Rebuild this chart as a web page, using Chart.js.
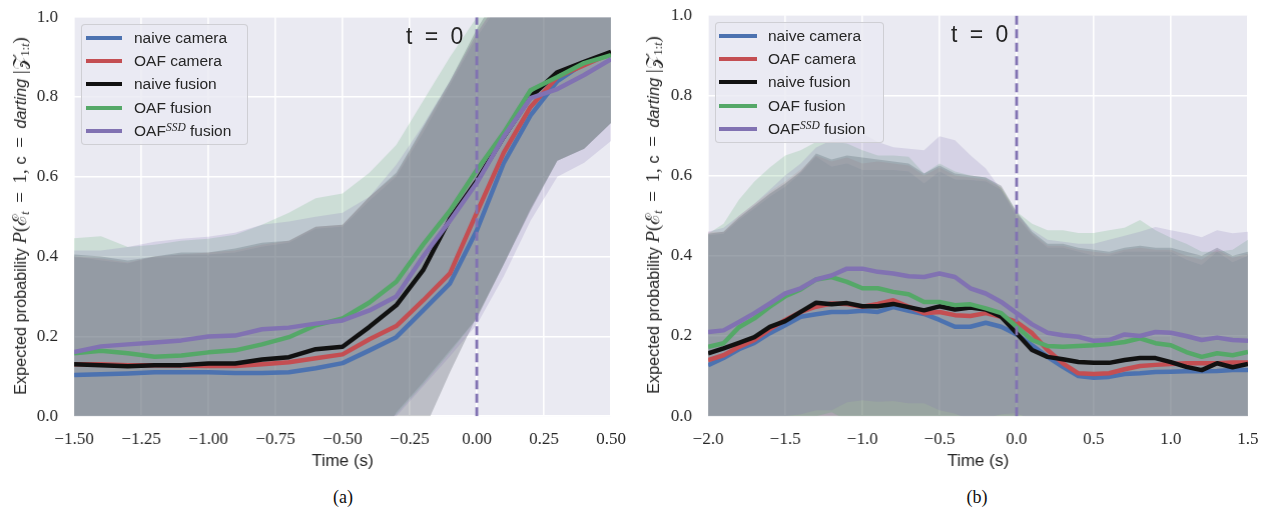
<!DOCTYPE html>
<html><head><meta charset="utf-8">
<script src="https://cdn.jsdelivr.net/npm/chart.js@4.4.1/dist/chart.umd.min.js"></script>
<style>
html,body{margin:0;padding:0;background:#fff}
body{width:1267px;height:512px;position:relative;overflow:hidden;font-family:"Liberation Sans",Arial,sans-serif;color:#262626}
canvas{position:absolute;top:0}
#ca{left:0}
#cb{left:630px}
.legend{position:absolute;background:rgba(234,234,242,0.8);border:1px solid rgba(204,204,208,0.9);border-radius:4px;box-sizing:border-box}
.sw{position:absolute;height:4px}
.lt{position:absolute;font-size:15.5px;white-space:nowrap;line-height:15px;color:#262626}
.lt sup{font-family:"Liberation Serif",serif;font-style:italic;font-size:11.5px;position:relative;top:-1px;vertical-align:top;line-height:10px}
.tz{position:absolute;font-size:23px;white-space:nowrap;color:#262626;word-spacing:6px;line-height:23px}
.cap{position:absolute;font-family:"Liberation Serif",serif;font-size:18px;color:#111;transform:translateX(-50%);line-height:18px}
.ytitle{position:absolute;white-space:nowrap;font-size:16.3px;line-height:18px;transform:translate(-50%,-50%) rotate(-90deg);color:#262626}
.m{font-family:"Liberation Serif",serif;font-size:19px}
.mi{font-family:"Liberation Serif",serif;font-style:italic;font-size:19px}
.ytitle sub{font-size:12px;line-height:0;position:relative;top:3px;vertical-align:baseline}
</style>
</head><body>
<canvas id="ca" width="630" height="472"></canvas>
<canvas id="cb" width="637" height="472"></canvas>
<div class="ytitle" style="left:20px;top:216px">Expected probability <span class="mi">P</span><span class="m">(</span><span class="m">ℰ</span><sub class="mi">t</sub><span class="m">&thinsp; = &thinsp;1, </span>c<span class="m">&thinsp; = &thinsp;</span><i>darting</i><span class="m"> |</span><span class="m">𝒵</span><sub class="m">1:<i>t</i></sub><span class="m">)</span></div>
<div class="ytitle" style="left:653px;top:215px">Expected probability <span class="mi">P</span><span class="m">(</span><span class="m">ℰ</span><sub class="mi">t</sub><span class="m">&thinsp; = &thinsp;1, </span>c<span class="m">&thinsp; = &thinsp;</span><i>darting</i><span class="m"> |</span><span class="m">𝒵</span><sub class="m">1:<i>t</i></sub><span class="m">)</span></div>
<div class="tz" style="left:406px;top:25px">t = 0</div>
<div class="tz" style="left:951px;top:23px">t = 0</div>
<div class="cap" style="left:343px;top:488px">(a)</div>
<div class="cap" style="left:977px;top:488px">(b)</div>
<div id="lega" class="legend" style="left:81px;top:24px;width:167px;height:121px"></div>
<div id="legb" class="legend" style="left:715px;top:22px;width:169px;height:121px"></div>
<script>
// ---------- shared ----------
const seriesNames = ['naive camera', 'OAF camera', 'naive fusion', 'OAF fusion', 'OAF<sup>SSD</sup> fusion'];
const lineColors = ['#4C72B0', '#C44E52', '#111111', '#55A868', '#8172B2'];
const bandColors = ['rgba(76,114,176,0.12)', 'rgba(196,78,82,0.12)', 'rgba(20,30,40,0.21)', 'rgba(85,168,104,0.2)', 'rgba(129,114,178,0.2)'];
const yTicks = [0, 0.2, 0.4, 0.6, 0.8, 1.0];
const tZero = 0;

// ---------- chart (a) ----------
const timesA = [-1.5,-1.4,-1.3,-1.2,-1.1,-1.0,-0.9,-0.8,-0.7,-0.6,-0.5,-0.4,-0.3,-0.2,-0.1,0.0,0.1,0.2,0.3,0.4,0.5];
const xTicksA = [-1.5,-1.25,-1.0,-0.75,-0.5,-0.25,0.0,0.25,0.5];
const meanA_naiveCam   = [0.103,0.105,0.107,0.110,0.110,0.110,0.108,0.108,0.110,0.120,0.133,0.165,0.198,0.265,0.333,0.466,0.634,0.754,0.840,0.885,0.910];
const meanA_oafCam     = [0.130,0.130,0.128,0.128,0.127,0.126,0.126,0.130,0.135,0.145,0.155,0.193,0.226,0.290,0.358,0.510,0.660,0.775,0.850,0.880,0.910];
const meanA_naiveFus   = [0.130,0.128,0.125,0.128,0.128,0.132,0.132,0.142,0.148,0.168,0.174,0.224,0.278,0.366,0.495,0.590,0.700,0.800,0.862,0.888,0.913];
const meanA_oafFus     = [0.158,0.164,0.158,0.149,0.152,0.160,0.165,0.180,0.198,0.228,0.245,0.285,0.337,0.430,0.515,0.617,0.710,0.817,0.850,0.885,0.905];
const meanA_oafSsdFus  = [0.161,0.175,0.180,0.185,0.190,0.200,0.202,0.218,0.222,0.232,0.240,0.265,0.300,0.400,0.490,0.585,0.700,0.797,0.820,0.855,0.895];
const upA_naiveCam     = [0.400,0.390,0.383,0.400,0.405,0.405,0.410,0.425,0.435,0.470,0.475,0.540,0.600,0.710,0.830,0.950,1.050,1.150,1.200,1.200,1.200];
const upA_oafCam       = [0.400,0.395,0.385,0.400,0.405,0.410,0.415,0.430,0.440,0.475,0.480,0.550,0.605,0.720,0.835,0.960,1.060,1.150,1.200,1.200,1.200];
const upA_naiveFus     = [0.405,0.400,0.390,0.400,0.410,0.410,0.420,0.435,0.440,0.475,0.480,0.550,0.610,0.725,0.840,0.970,1.080,1.180,1.200,1.200,1.200];
const upA_oafFus       = [0.446,0.451,0.424,0.430,0.440,0.445,0.455,0.480,0.510,0.546,0.558,0.610,0.680,0.790,0.900,1.000,1.100,1.200,1.250,1.300,1.300];
const upA_oafSsdFus    = [0.415,0.415,0.424,0.437,0.445,0.450,0.460,0.480,0.488,0.500,0.510,0.550,0.630,0.730,0.840,0.960,1.060,1.150,1.200,1.250,1.250];
const lowA_naiveCam    = [-0.19,-0.18,-0.17,-0.18,-0.18,-0.18,-0.19,-0.21,-0.21,-0.23,-0.21,-0.13,0.010,0.085,0.165,0.245,0.380,0.520,0.640,0.670,0.735];
const lowA_oafCam      = [-0.14,-0.14,-0.13,-0.15,-0.15,-0.16,-0.16,-0.17,-0.17,-0.19,-0.17,-0.12,0.010,0.085,0.165,0.245,0.380,0.520,0.640,0.670,0.735];
const lowA_naiveFus    = [-0.15,-0.15,-0.14,-0.15,-0.15,-0.15,-0.16,-0.16,-0.15,-0.14,-0.14,-0.30,-0.19,-0.040,0.110,0.250,0.380,0.515,0.640,0.670,0.735];
const lowA_oafFus      = [-0.13,-0.12,-0.11,-0.13,-0.14,-0.13,-0.13,-0.12,-0.11,-0.09,-0.07,-0.04,0.005,0.080,0.160,0.245,0.380,0.520,0.640,0.670,0.735];
const lowA_oafSsdFus   = [-0.10,-0.07,-0.06,-0.07,-0.07,-0.05,-0.06,-0.05,-0.05,-0.04,-0.03,-0.03,0.000,0.075,0.150,0.230,0.350,0.490,0.600,0.635,0.690];

// ---------- chart (b) ----------
const timesB = [-2.0,-1.9,-1.8,-1.7,-1.6,-1.5,-1.4,-1.3,-1.2,-1.1,-1.0,-0.9,-0.8,-0.7,-0.6,-0.5,-0.4,-0.3,-0.2,-0.1,0.0,0.1,0.2,0.3,0.4,0.5,0.6,0.7,0.8,0.9,1.0,1.1,1.2,1.3,1.4,1.5];
const xTicksB = [-2.0,-1.5,-1.0,-0.5,0.0,0.5,1.0,1.5];
const meanB_naiveCam   = [0.127,0.145,0.167,0.183,0.207,0.227,0.248,0.254,0.260,0.260,0.263,0.260,0.272,0.263,0.255,0.240,0.223,0.223,0.233,0.223,0.204,0.177,0.148,0.123,0.100,0.096,0.098,0.105,0.107,0.110,0.111,0.112,0.112,0.113,0.115,0.115];
const meanB_oafCam     = [0.140,0.152,0.173,0.190,0.217,0.240,0.260,0.273,0.281,0.280,0.273,0.280,0.289,0.273,0.257,0.260,0.252,0.250,0.257,0.248,0.235,0.207,0.165,0.132,0.107,0.105,0.107,0.117,0.125,0.128,0.130,0.132,0.132,0.132,0.134,0.134];
const meanB_naiveFus   = [0.157,0.169,0.183,0.197,0.223,0.237,0.260,0.283,0.279,0.282,0.274,0.274,0.280,0.272,0.264,0.274,0.266,0.271,0.266,0.248,0.207,0.165,0.148,0.142,0.135,0.133,0.133,0.140,0.145,0.145,0.135,0.123,0.115,0.132,0.122,0.130];
const meanB_oafFus     = [0.173,0.182,0.222,0.244,0.273,0.299,0.316,0.341,0.347,0.335,0.319,0.319,0.310,0.304,0.285,0.285,0.277,0.279,0.269,0.257,0.223,0.190,0.175,0.173,0.175,0.177,0.180,0.185,0.194,0.182,0.177,0.160,0.148,0.157,0.152,0.160];
const meanB_oafSsdFus  = [0.210,0.214,0.235,0.257,0.281,0.306,0.319,0.341,0.351,0.368,0.368,0.360,0.356,0.349,0.347,0.356,0.347,0.319,0.306,0.285,0.257,0.229,0.208,0.202,0.198,0.188,0.190,0.204,0.200,0.210,0.208,0.200,0.190,0.196,0.190,0.188];
const upB_naiveCam     = [0.451,0.455,0.489,0.518,0.547,0.572,0.605,0.647,0.622,0.630,0.614,0.614,0.614,0.610,0.580,0.610,0.590,0.589,0.585,0.564,0.497,0.451,0.420,0.420,0.410,0.400,0.400,0.410,0.410,0.410,0.410,0.390,0.377,0.410,0.384,0.400];
const upB_oafCam       = [0.460,0.460,0.500,0.530,0.560,0.585,0.615,0.650,0.635,0.645,0.630,0.635,0.630,0.625,0.600,0.620,0.600,0.595,0.590,0.570,0.505,0.455,0.425,0.425,0.415,0.410,0.405,0.415,0.420,0.415,0.415,0.400,0.390,0.415,0.395,0.405];
const upB_naiveFus     = [0.455,0.460,0.495,0.525,0.555,0.580,0.610,0.655,0.640,0.650,0.645,0.640,0.635,0.630,0.605,0.625,0.605,0.600,0.595,0.575,0.510,0.460,0.430,0.430,0.420,0.415,0.410,0.420,0.425,0.420,0.420,0.410,0.400,0.420,0.400,0.410];
const upB_oafFus       = [0.455,0.480,0.540,0.585,0.620,0.650,0.663,0.684,0.684,0.680,0.663,0.650,0.650,0.647,0.605,0.630,0.610,0.600,0.595,0.570,0.510,0.480,0.464,0.464,0.457,0.457,0.464,0.470,0.489,0.464,0.445,0.430,0.410,0.410,0.415,0.440];
const upB_oafSsdFus    = [0.460,0.470,0.500,0.530,0.565,0.600,0.630,0.670,0.688,0.697,0.705,0.684,0.671,0.667,0.663,0.698,0.688,0.651,0.618,0.564,0.506,0.465,0.440,0.435,0.430,0.430,0.440,0.450,0.460,0.472,0.464,0.456,0.446,0.464,0.456,0.460];
const lowB_naiveCam    = [-0.20,-0.17,-0.16,-0.15,-0.13,-0.12,-0.11,-0.14,-0.10,-0.11,-0.09,-0.09,-0.07,-0.08,-0.07,-0.13,-0.14,-0.14,-0.12,-0.12,-0.09,-0.10,-0.12,-0.17,-0.21,-0.21,-0.20,-0.20,-0.20,-0.19,-0.19,-0.17,-0.15,-0.18,-0.15,-0.17];
const lowB_oafCam      = [-0.18,-0.16,-0.15,-0.15,-0.13,-0.10,-0.10,-0.10,-0.07,-0.08,-0.08,-0.07,-0.05,-0.08,-0.09,-0.10,-0.10,-0.10,-0.08,-0.07,-0.04,-0.04,-0.10,-0.16,-0.20,-0.20,-0.19,-0.18,-0.17,-0.16,-0.16,-0.14,-0.13,-0.15,-0.13,-0.14];
const lowB_naiveFus    = [-0.14,-0.12,-0.13,-0.13,-0.11,-0.11,-0.09,-0.09,-0.08,-0.09,-0.10,-0.09,-0.08,-0.09,-0.08,-0.08,-0.07,-0.06,-0.06,-0.08,-0.10,-0.13,-0.13,-0.15,-0.15,-0.15,-0.14,-0.14,-0.14,-0.13,-0.15,-0.16,-0.17,-0.16,-0.16,-0.15];
const lowB_oafFus      = [-0.11,-0.12,-0.10,-0.10,-0.07,-0.05,-0.03,0.000,0.010,-0.01,-0.025,-0.01,-0.03,-0.04,-0.035,-0.06,-0.055,-0.04,-0.06,-0.06,-0.065,-0.10,-0.11,-0.12,-0.11,-0.10,-0.10,-0.10,-0.10,-0.10,-0.09,-0.12,-0.13,-0.11,-0.13,-0.12];
const lowB_oafSsdFus   = [-0.04,-0.04,-0.03,-0.02,-0.005,0.000,0.005,0.015,0.015,0.035,0.040,0.036,0.038,0.032,0.032,0.015,0.007,-0.01,-0.005,0.005,0.008,-0.01,-0.03,-0.03,-0.04,-0.06,-0.06,-0.05,-0.07,-0.05,-0.05,-0.06,-0.07,-0.07,-0.08,-0.08];

// ---------- helpers ----------
const zip = (xs, ys) => xs.map((x, i) => ({x: x, y: ys[i]}));
const fmtTick = d => v => (v < -1e-9 ? '\u2212' : '') + Math.abs(v).toFixed(d);

function buildDatasets(times, means, ups, lows) {
  const ds = [];
  for (let i = 0; i < 5; i++) {
    ds.push({label: 'u' + i, data: zip(times, ups[i]), borderWidth: 0, pointRadius: 0, fill: false, order: 100 - i, clip: 0});
    ds.push({label: 'l' + i, data: zip(times, lows[i]), borderWidth: 0, pointRadius: 0, fill: '-1', backgroundColor: bandColors[i], order: 100 - i, clip: 0});
  }
  for (let i = 0; i < 5; i++) {
    ds.push({label: seriesNames[i], data: zip(times, means[i]), borderColor: lineColors[i], borderWidth: 4.5, pointRadius: 0, fill: false, order: 10 - i, borderJoinStyle: 'round', borderCapStyle: 'butt'});
  }
  ds.push({label: 't0', data: [{x: tZero, y: 0}, {x: tZero, y: 1}], borderColor: '#8172B2', borderWidth: 2.8, borderDash: [9, 4.5], pointRadius: 0, fill: false, order: 0, clip: 0});
  return ds;
}

const bgPlugin = {
  id: 'bg',
  beforeDraw(chart) {
    const {ctx, chartArea: a} = chart;
    ctx.save(); ctx.fillStyle = '#EAEAF2'; ctx.fillRect(a.left, a.top, a.right - a.left, a.bottom - a.top); ctx.restore();
  }
};

function makeChart(id, times, means, ups, lows, xTicks, xmin, xmax, dec, yAxisW) {
  return new Chart(document.getElementById(id), {
    type: 'line',
    data: {datasets: buildDatasets(times, means, ups, lows)},
    plugins: [bgPlugin],
    options: {
      responsive: false, maintainAspectRatio: false, animation: false, devicePixelRatio: 1,
      layout: {padding: {left: 0, top: 10, right: 10, bottom: 0}},
      plugins: {legend: {display: false}, tooltip: {enabled: false}},
      scales: {
        x: {
          type: 'linear', min: xmin, max: xmax,
          afterBuildTicks: s => { s.ticks = xTicks.map(v => ({value: v})); },
          afterFit: s => { s.height = 56; },
          ticks: {callback: fmtTick(dec), color: '#262626', padding: 13, maxRotation: 0, autoSkip: false, font: {family: '"Liberation Serif", serif', size: 17}},
          grid: {color: '#ffffff', lineWidth: 1.6, drawTicks: false},
          border: {display: false},
          title: {display: true, text: 'Time (s)', color: '#262626', padding: {top: 0, bottom: 1}, font: {family: '"Liberation Sans", Arial, sans-serif', size: 17}}
        },
        y: {
          type: 'linear', min: 0, max: 1,
          afterBuildTicks: s => { s.ticks = yTicks.map(v => ({value: v})); },
          afterFit: s => { s.width = yAxisW; },
          ticks: {callback: fmtTick(1), color: '#262626', padding: 16, font: {family: '"Liberation Serif", serif', size: 17}},
          grid: {color: '#ffffff', lineWidth: 1.6, drawTicks: false},
          border: {display: false}
        }
      }
    }
  });
}

// place a chart so that its plotting area lands on the wanted page box
function fitChart(chart, canvas, target, pos) {
  for (let k = 0; k < 6; k++) {
    const a = chart.chartArea;
    const dl = target.left - (pos.left + a.left);
    const dt = target.top - (pos.top + a.top);
    const dw = (target.right - target.left) - (a.right - a.left);
    const dh = (target.bottom - target.top) - (a.bottom - a.top);
    pos.left += dl; pos.top += dt;
    canvas.style.left = pos.left + 'px'; canvas.style.top = pos.top + 'px';
    if (Math.abs(dw) < 0.3 && Math.abs(dh) < 0.3) break;
    pos.w += dw; pos.h += dh;
    chart.resize(pos.w, pos.h);
  }
}

const chartA = makeChart('ca', timesA,
  [meanA_naiveCam, meanA_oafCam, meanA_naiveFus, meanA_oafFus, meanA_oafSsdFus],
  [upA_naiveCam, upA_oafCam, upA_naiveFus, upA_oafFus, upA_oafSsdFus],
  [lowA_naiveCam, lowA_oafCam, lowA_naiveFus, lowA_oafFus, lowA_oafSsdFus],
  xTicksA, -1.5, 0.5, 2, 74);
const chartB = makeChart('cb', timesB,
  [meanB_naiveCam, meanB_oafCam, meanB_naiveFus, meanB_oafFus, meanB_oafSsdFus],
  [upB_naiveCam, upB_oafCam, upB_naiveFus, upB_oafFus, upB_oafSsdFus],
  [lowB_naiveCam, lowB_oafCam, lowB_naiveFus, lowB_oafFus, lowB_oafSsdFus],
  xTicksB, -2.0, 1.5, 1, 78);
fitChart(chartA, document.getElementById('ca'), {left: 74, top: 17, right: 610, bottom: 416}, {left: 0, top: 0, w: 630, h: 472});
fitChart(chartB, document.getElementById('cb'), {left: 708, top: 15, right: 1247, bottom: 416}, {left: 630, top: 0, w: 637, h: 472});

// ---------- legends ----------
function buildLegend(id, swLeft, swWidth, textLeft, rowTops) {
  const box = document.getElementById(id);
  for (let i = 0; i < 5; i++) {
    const sw = document.createElement('div');
    sw.className = 'sw';
    sw.style.left = swLeft + 'px'; sw.style.width = swWidth + 'px';
    sw.style.top = (rowTops[i] - 2) + 'px';
    sw.style.background = lineColors[i];
    box.appendChild(sw);
    const t = document.createElement('div');
    t.className = 'lt';
    t.style.left = textLeft + 'px';
    t.style.top = (rowTops[i] - 8) + 'px';
    t.innerHTML = seriesNames[i];
    box.appendChild(t);
  }
}
buildLegend('lega', 4, 36, 52, [13, 36, 59, 82.5, 106]);
buildLegend('legb', 3, 38, 52, [13, 36, 59, 82.5, 106]);
</script>
</body></html>
